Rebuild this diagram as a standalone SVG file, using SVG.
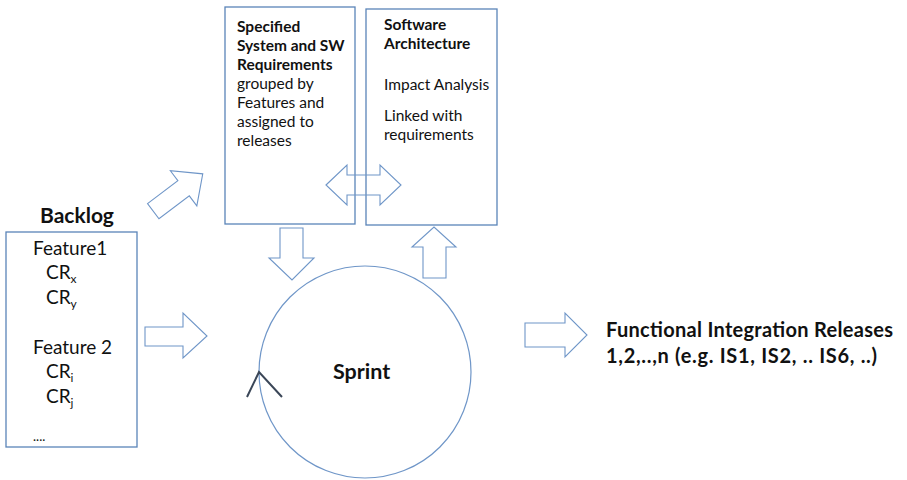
<svg xmlns="http://www.w3.org/2000/svg" width="907" height="480" viewBox="0 0 907 480">
  <style>
    .box { fill: #ffffff; stroke: #5a84b8; stroke-width: 1.3; }
    .arrow { fill: none; stroke: #6f96c8; stroke-width: 1.1; stroke-linejoin: miter; }
    .cycle { fill: none; stroke: #6f96c8; stroke-width: 1.2; }
    .t { font-family: Lato, "Liberation Sans", sans-serif; fill: #111111; }
    .b { font-weight: bold; }
    .sub { font-size: 12px; }
  </style>

  <!-- Backlog -->
  <g id="backlog">
    <text class="t b" x="40" y="223" font-size="21">Backlog</text>
    <rect class="box" x="6" y="232" width="131" height="215"/>
    <text class="t" x="33" y="255" font-size="19">Feature1</text>
    <text class="t" x="46" y="279" font-size="19">CR<tspan class="sub" dy="4">x</tspan></text>
    <text class="t" x="46" y="304" font-size="19">CR<tspan class="sub" dy="4">y</tspan></text>
    <text class="t" x="33" y="354" font-size="19">Feature 2</text>
    <text class="t" x="46" y="378" font-size="19">CR<tspan class="sub" dy="4">i</tspan></text>
    <text class="t" x="46" y="403" font-size="19">CR<tspan class="sub" dy="4">j</tspan></text>
    <text class="t" x="33" y="441" font-size="13">....</text>
  </g>

  <!-- Requirements -->
  <g id="requirements">
    <rect class="box" x="225" y="7" width="130" height="217"/>
    <text class="t" x="237" y="32" font-size="15.5">
      <tspan class="b" x="237">Specified</tspan>
      <tspan class="b" x="237" dy="19">System and SW</tspan>
      <tspan class="b" x="237" dy="19">Requirements</tspan>
      <tspan x="237" dy="19">grouped by</tspan>
      <tspan x="237" dy="19">Features and</tspan>
      <tspan x="237" dy="19">assigned to</tspan>
      <tspan x="237" dy="19">releases</tspan>
    </text>
  </g>

  <!-- Software architecture -->
  <g id="architecture">
    <rect class="box" x="366" y="9" width="131" height="216"/>
    <text class="t" x="384" y="30" font-size="15.5">
      <tspan class="b" x="384">Software</tspan>
      <tspan class="b" x="384" dy="19">Architecture</tspan>
      <tspan x="384" y="90">Impact Analysis</tspan>
      <tspan x="384" y="121">Linked with</tspan>
      <tspan x="384" dy="19">requirements</tspan>
    </text>
  </g>

  <!-- Sprint cycle -->
  <g id="sprint">
    <circle class="cycle" cx="365" cy="372" r="106"/>
    <polyline points="247,397 259,372 282,397" fill="none" stroke="#3b4758" stroke-width="2"/>
    <text class="t b" x="333" y="379" font-size="21.5">Sprint</text>
  </g>

  <!-- Releases -->
  <g id="releases">
    <text class="t b" x="606" y="337" font-size="20" textLength="287">Functional Integration Releases</text>
    <text class="t b" x="606" y="363" font-size="20" textLength="271">1,2,..,n (e.g. IS1, IS2, .. IS6, ..)</text>
  </g>

  <!-- Block arrows -->
  <g id="connectors">
    <polygon class="arrow" points="145,327 183,327 183,313 207,336 183,358 183,346 145,346"/>
    <polygon class="arrow" transform="translate(178,192.5) rotate(-37)" points="-31,-9.5 7,-9.5 7,-22 31,0 7,22 7,9.5 -31,9.5"/>
    <polygon class="arrow" points="326,185 347,165 347,175 380,175 380,165 401,185 380,205 380,195 347,195 347,205"/>
    <polygon class="arrow" points="280,228 303,228 303,258 314,258 292,280 269,258 280,258"/>
    <polygon class="arrow" points="423,278 446,278 446,247 456,247 434,227 412,247 423,247"/>
    <polygon class="arrow" points="525,323 565,323 565,313 587,335 565,357 565,347 525,347"/>
  </g>
</svg>
